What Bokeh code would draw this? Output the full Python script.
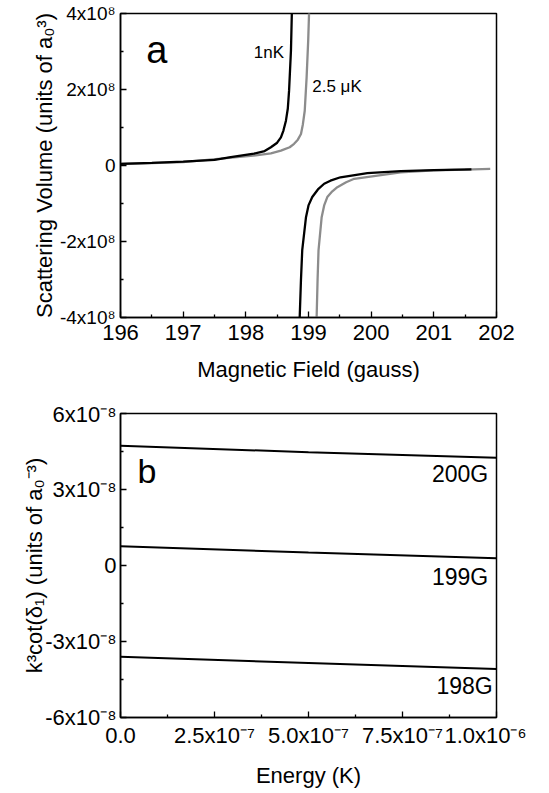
from bokeh.plotting import figure
from bokeh.layouts import column
from bokeh.models import FixedTicker, Label, Range1d
from bokeh.embed import file_html
from bokeh.resources import INLINE

FONT = "Liberation Sans"

# ---- panel a: scattering volume (units of 1e8 a0^3) vs magnetic field (G)
field_1nk_lo = [196.0, 196.5, 197.0, 197.5, 197.76, 198.13, 198.3, 198.40, 198.5, 198.56, 198.6,
                198.64, 198.67, 198.69, 198.72, 198.735, 198.75]
vol_1nk_lo = [0.045, 0.07, 0.10, 0.15, 0.22, 0.31, 0.38, 0.48, 0.60, 0.74, 0.92,
              1.18, 1.5, 1.97, 3.02, 4.07, 5.0]
field_1nk_hi = [198.855, 198.86, 198.88, 198.90, 198.96, 199.0, 199.06, 199.15, 199.25, 199.35,
                199.51, 199.94, 200.47, 201.0, 201.6]
vol_1nk_hi = [-5.0, -3.98, -3.0, -2.23, -1.36, -1.05, -0.83, -0.63, -0.48, -0.40,
              -0.31, -0.20, -0.15, -0.12, -0.10]

field_25uk_lo = [196.0, 196.5, 197.0, 197.60, 198.12, 198.4, 198.56, 198.7, 198.77, 198.83, 198.88,
                 198.91, 198.94, 198.97, 198.995, 199.01, 199.02]
vol_25uk_lo = [0.04, 0.06, 0.09, 0.18, 0.26, 0.32, 0.39, 0.48, 0.57, 0.68, 0.83,
               1.08, 1.44, 2.32, 3.28, 4.07, 5.0]
field_25uk_hi = [199.125, 199.13, 199.145, 199.16, 199.21, 199.25, 199.30, 199.38, 199.46, 199.6,
                 199.73, 200.47, 201.0, 201.5, 201.9]
vol_25uk_hi = [-5.0, -3.98, -3.0, -2.23, -1.36, -1.05, -0.83, -0.68, -0.57, -0.44,
               -0.35, -0.18, -0.13, -0.11, -0.09]

a_yticks = [-4, -2, 0, 2, 4]
a_ylabels = ["-4x10⁸", "-2x10⁸", "0", "2x10⁸", "4x10⁸"]
a_xticks = [196, 197, 198, 199, 200, 201, 202]

# ---- panel b: k^3 cot(delta_1) (units of 1e-8 a0^-3) vs energy (1e-7 K)
energy = [0.0, 5.0, 10.0]
k3cot_200g = [4.73, 4.47, 4.25]
k3cot_199g = [0.76, 0.51, 0.29]
k3cot_198g = [-3.60, -3.85, -4.09]

b_yticks = [-6, -3, 0, 3, 6]
b_ylabels = ["-6x10⁻⁸", "-3x10⁻⁸", "0", "3x10⁻⁸", "6x10⁻⁸"]
b_xticks = [0, 2.5, 5, 7.5, 10]
b_xlabels = ["0.0", "2.5x10⁻⁷", "5.0x10⁻⁷", "7.5x10⁻⁷", "1.0x10⁻⁶"]


def style(p, tick_size, title_size):
    p.xgrid.grid_line_color = None
    p.ygrid.grid_line_color = None
    p.outline_line_color = "black"
    p.outline_line_width = 1.5
    p.background_fill_color = "white"
    p.border_fill_color = "white"
    for ax in (p.xaxis[0], p.yaxis[0]):
        ax.axis_line_width = 1.5
        ax.major_tick_in = 6
        ax.major_tick_out = 0
        ax.minor_tick_in = 3
        ax.minor_tick_out = 0
        ax.major_tick_line_width = 1.3
        ax.minor_tick_line_width = 1.3
        ax.major_label_text_font = FONT
        ax.major_label_text_color = "black"
        ax.axis_label_text_font = FONT
        ax.axis_label_text_font_style = "normal"
        ax.axis_label_text_color = "black"
        ax.axis_label_text_font_size = title_size
    p.yaxis[0].major_label_text_font_size = tick_size[0]
    p.xaxis[0].major_label_text_font_size = tick_size[1]


def note(p, x, y, text, size, align):
    p.add_layout(Label(x=x, y=y, text=text, text_font=FONT, text_font_size=size,
                       text_color="black", text_baseline="alphabetic", text_align=align))


# panel a
pa = figure(frame_width=376, frame_height=304, output_backend="svg",
            toolbar_location=None, x_range=Range1d(196, 202), y_range=Range1d(-4, 4),
            min_border_left=120, min_border_right=30, min_border_top=13, min_border_bottom=84,
            x_axis_label="Magnetic Field (gauss)",
            y_axis_label="Scattering Volume (units of a₀³)")
style(pa, ("19px", "22px"), "22px")
pa.xaxis.ticker = FixedTicker(ticks=a_xticks, minor_ticks=[196.5, 197.5, 198.5, 199.5, 200.5, 201.5])
pa.yaxis.ticker = FixedTicker(ticks=a_yticks, minor_ticks=[-3, -1, 1, 3])
pa.yaxis.major_label_overrides = dict(zip(a_yticks, a_ylabels))
pa.xaxis.major_label_standoff = 7
pa.yaxis.major_label_standoff = 5
pa.xaxis.axis_label_standoff = 14
pa.yaxis.axis_label_standoff = 0

grey = "#8c8c8c"
pa.line(field_25uk_lo, vol_25uk_lo, line_color=grey, line_width=2.3)
pa.line(field_25uk_hi, vol_25uk_hi, line_color=grey, line_width=2.3)
pa.line(field_1nk_lo, vol_1nk_lo, line_color="black", line_width=2.3)
pa.line(field_1nk_hi, vol_1nk_hi, line_color="black", line_width=2.3)

note(pa, 196.41, 3.04, "a", "38px", "left")
note(pa, 198.61, 2.98, "1nK", "17px", "right")
note(pa, 199.06, 2.09, "2.5 μK", "17px", "left")

# panel b
pb = figure(frame_width=376, frame_height=304, output_backend="svg",
            toolbar_location=None, x_range=Range1d(0, 10), y_range=Range1d(-6, 6),
            min_border_left=120, min_border_right=30, min_border_top=12, min_border_bottom=72,
            x_axis_label="Energy (K)",
            y_axis_label="k³cot(δ₁) (units of a₀⁻³)")
style(pb, ("22px", "22px"), "22px")
pb.xaxis.ticker = FixedTicker(ticks=b_xticks, minor_ticks=[1.25, 3.75, 6.25, 8.75])
pb.yaxis.ticker = FixedTicker(ticks=b_yticks, minor_ticks=[-4.5, -1.5, 1.5, 4.5])
pb.xaxis.major_label_overrides = dict(zip(b_xticks, b_xlabels))
pb.yaxis.major_label_overrides = dict(zip(b_yticks, b_ylabels))
pb.xaxis.major_label_standoff = 5
pb.yaxis.major_label_standoff = 4
pb.xaxis.axis_label_standoff = 12
pb.yaxis.axis_label_standoff = -5

for vals in (k3cot_200g, k3cot_199g, k3cot_198g):
    pb.line(energy, vals, line_color="black", line_width=2)

note(pb, 0.45, 3.74, "b", "34px", "left")
note(pb, 9.78, 3.61, "200G", "23px", "right")
note(pb, 9.78, -0.47, "199G", "23px", "right")
note(pb, 9.9, -4.74, "198G", "23px", "right")

p = column(pa, pb, spacing=0)
open("out.html", "w").write(file_html(p, INLINE))
